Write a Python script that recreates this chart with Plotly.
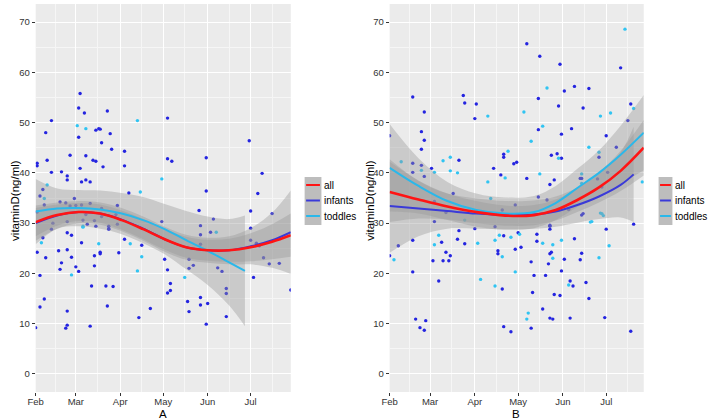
import plotly.graph_objects as go

Y = "2015-"

# ---------------- Panel A : scatter points ----------------
a_inf_dates = ["02-02","02-02","02-12","02-08","02-09","02-12","03-04","03-03","03-07","03-03","03-15","03-17","03-18","03-23","03-25","03-19","03-26","02-25","03-08","03-13","03-15","03-04","03-20","04-04","04-04","02-19","02-23","02-23","03-05","03-08","03-11","04-07","05-04","05-04","05-07","05-31","05-31","06-30","07-09","07-06","02-04","02-06","02-18","02-28","02-01","02-02","02-04","02-04","02-07","02-08","02-06","02-12","02-17","02-19","02-18","02-23","02-23","02-26","02-26","02-23","02-23","02-22","03-01","03-03","03-05","03-09","03-11","03-12","03-14","03-14","03-18","03-18","03-22","03-23","03-27","03-24","03-30","03-31","04-04","04-14","04-16","04-22","04-30","05-02","05-04","05-04","05-06","05-06","05-19","05-18","05-19","05-22","05-19","05-26","05-27","05-27","05-27","05-27","05-27","05-31","06-01","06-05","06-03","06-08","06-11","06-14","06-14","06-14","07-01","07-01","07-01","07-03","07-16","07-10","07-14","07-21","07-29","07-07","02-07","02-02","02-22","02-25","03-01","03-05","03-08","03-11","03-14","03-06","02-23","02-13","03-15","03-24","03-24","03-30","03-29","03-19","03-19","07-05"]
a_inf_vals = [41.9,41.4,50.4,48.0,42.5,40.1,55.8,52.9,51.9,47.1,48.5,48.8,48.7,52.3,47.8,46.0,44.7,43.5,43.4,42.5,42.3,40.9,41.2,41.4,44.3,40.2,39.4,38.6,38.2,38.6,38.2,36.0,50.9,42.8,42.3,43.0,36.4,46.4,39.9,35.9,35.4,36.7,34.2,34.9,9.2,24.2,19.6,13.3,14.9,23.1,27.1,28.8,24.5,22.1,20.8,28.1,24.7,27.6,23.2,12.5,9.7,9.1,21.3,20.4,26.1,29.8,9.5,17.5,21.5,23.5,23.9,24.2,17.5,13.5,17.4,28.9,29.8,24.1,26.8,11.2,25.6,13.0,30.3,22.8,20.7,16.1,16.6,18.0,21.0,14.4,12.4,21.6,22.8,32.5,29.5,27.7,25.8,15.2,13.7,9.9,14.0,30.8,28.2,21.1,20.4,17.0,16.0,11.4,32.4,29.0,26.6,19.2,31.9,23.1,21.9,22.0,16.7,25.5,33.6,32.2,34.0,33.4,33.5,33.6,31.7,33.9,30.5,30.6,30.3,30.0,29.4,29.4,28.8,33.5,31.7,32.9,31.3,26.0]
a_tod_dates = ["03-02","03-08","04-15","04-13","04-30","02-09","02-07","02-05","02-26","03-06","03-17","04-08","04-13","04-16","05-16","06-07","03-06"]
a_tod_vals = [49.4,48.8,36.2,50.4,38.8,37.6,34.9,26.1,19.7,29.4,25.9,25.9,20.5,23.3,19.2,28.2,29.2]

# ---------------- Panel A : smooth fits ----------------
a_all_dates = ["02-01","02-16","03-03","03-18","04-02","04-17","05-02","05-17","06-01","06-16","07-01","07-16","07-29"]
a_all_fit = [30.2,31.6,32.2,31.9,30.6,28.8,26.8,25.2,24.6,24.6,25.2,26.3,27.6]
a_all_se = [2.8,2.1,1.8,1.8,1.9,2.0,2.1,2.1,2.1,2.3,2.8,3.5,4.3]
a_inf_fit = [30.0,31.5,32.2,31.9,30.7,28.9,26.8,25.2,24.6,24.6,25.4,26.6,28.2]
a_inf_se = [3.5,2.6,2.2,2.2,2.3,2.4,2.5,2.5,2.5,2.8,3.6,5.5,8.3]
a_tod_fdates = ["02-01","02-16","03-03","03-18","04-02","04-17","05-02","05-17","06-01","06-16","06-27"]
a_tod_fit = [32.3,32.9,33.0,32.7,31.9,30.6,28.8,26.6,24.5,22.2,20.5]
a_tod_se = [6.5,4.0,3.6,3.8,4.1,4.6,5.0,5.8,6.8,8.6,11.0]

# ---------------- Panel B : scatter points ----------------
b_inf_dates = ["02-01","02-17","02-23","02-25","02-25","02-23","02-17","02-23","02-17","02-25","03-02","03-21","03-24","03-25","04-02","04-01","04-14","04-19","04-21","04-21","04-28","04-30","05-07","05-07","05-15","05-15","05-16","05-24","05-26","05-23","05-28","05-29","05-30","05-31","05-31","06-02","06-07","06-09","06-15","06-19","06-13","06-26","07-01","07-08","07-11","07-16","07-18","07-02","02-01","02-07","02-17","02-17","02-19","02-22","02-25","02-26","03-04","03-03","03-07","03-09","03-10","03-12","03-14","03-15","03-20","03-25","04-01","04-17","04-17","04-20","04-21","04-21","04-26","04-29","05-03","05-10","05-10","05-11","05-12","05-14","05-14","05-18","05-20","05-22","05-23","05-24","05-23","05-23","05-23","05-25","05-26","05-30","05-31","06-02","06-06","06-06","06-08","06-09","06-13","06-14","06-14","06-17","06-19","07-01","06-30","07-18","07-20","03-04","03-17","03-12","03-21","04-15","04-20","04-29","05-01","05-01","05-15","05-21","05-23","06-05","06-15","06-14","06-25","06-28"]
b_inf_vals = [47.4,55.1,48.2,52.1,46.5,44.7,41.9,41.5,40.1,39.3,40.9,42.5,55.4,53.9,53.7,50.8,40.9,39.6,43.7,43.1,41.8,42.1,65.7,38.9,54.8,48.6,63.2,43.5,38.6,37.7,43.8,53.3,61.6,47.7,42.9,56.3,48.8,57.2,52.9,56.8,38.9,43.1,47.4,45.1,60.9,50.4,53.7,40.1,23.5,25.5,26.6,20.3,10.9,9.2,8.7,10.6,30.3,22.5,18.5,26.2,22.5,24.2,22.5,23.5,26.8,25.9,28.9,24.5,23.9,16.9,9.4,27.5,8.4,24.8,25.2,22.3,9.1,16.2,19.6,27.8,26.4,12.9,19.6,21.9,23.9,24.2,29.4,28.8,11.1,10.9,15.8,15.6,20.5,22.8,18.5,11.1,17.5,26.9,22.7,24.0,31.6,18.2,15.0,28.8,11.2,8.5,29.8,34.3,35.9,32.1,28.5,29.3,32.6,33.6,31.6,28.1,35.2,34.6,29.6,32.7,31.9,38.9,38.8,37.2]
b_tod_dates = ["02-09","02-23","03-04","03-10","03-15","03-15","03-20","04-10","04-10","04-24","04-22","05-05","05-10","05-18","05-16","05-21","05-29","06-19","06-14","06-26","06-27","07-04","07-14","07-20","07-26","02-04","03-04","03-07","04-03","04-05","04-15","04-15","04-18","04-20","04-26","04-29","05-02","05-07","05-08","05-18","05-25","05-25","05-31","06-05","06-20","06-26","06-27","06-29","07-03","03-25","04-12","06-21","06-28","06-14"]
b_tod_vals = [42.2,40.5,40.1,42.4,43.1,40.4,40.0,51.3,38.2,44.3,39.0,52.1,46.3,49.3,39.8,56.9,42.9,45.1,39.8,44.1,51.3,51.9,68.6,52.8,38.2,22.7,25.7,27.6,26.0,18.8,17.5,26.6,27.6,23.3,27.2,20.3,27.8,10.9,12.1,26.0,23.0,25.7,26.6,17.7,30.2,23.1,32.0,31.5,25.5,30.6,34.9,30.3,31.9,37.9]

# ---------------- Panel B : smooth fits ----------------
b_fdates = ["02-01","02-21","03-13","04-02","04-22","05-12","05-27","06-11","06-26","07-11","07-27"]
b_all_fit = [36.2,34.7,33.3,32.2,31.5,31.6,32.6,34.6,37.1,40.4,45.0]
b_all_se = [6.0,3.8,2.6,2.2,2.0,2.0,2.1,2.4,3.0,4.0,5.5]
b_tod_fit = [41.0,37.4,34.4,32.6,31.9,32.2,34.0,37.0,40.0,43.6,48.0]
b_tod_se = [8.7,5.5,3.8,3.3,3.2,3.2,3.4,3.8,4.5,5.8,7.5]
b_inf_fdates = ["02-01","02-21","03-13","04-02","04-22","05-12","05-27","06-11","06-26","07-11","07-20"]
b_inf_fit = [33.4,32.9,32.4,31.9,31.6,31.7,32.3,33.6,35.3,37.6,39.7]
b_inf_se = [9.3,5.5,3.5,3.0,2.8,2.8,3.0,3.5,4.5,6.5,9.5]

# ---------------- axes / labels ----------------
month_ticks = ["2015-02-01","2015-03-01","2015-04-01","2015-05-01","2015-06-01","2015-07-01"]
month_labels = ["Feb","Mar","Apr","May","Jun","Jul"]
month_minor = ["2015-02-15","2015-03-16","2015-04-16","2015-05-16","2015-06-16","2015-07-16"]
y_ticks = [0,10,20,30,40,50,60,70]
y_minor = [5,15,25,35,45,55,65]
groups = ["all","infants","toddles"]
panel_labels = ["A","B"]
y_title = "vitaminD(ng/ml)"

C_ALL = "#ff1414"
C_INF = "#3a3ad8"
C_TOD = "#2ab8ea"
P_INF = "#2424e0"
P_TOD = "#30c4f2"
BAND = "rgba(153,153,153,0.4)"
FONT = "Liberation Sans, Arial, sans-serif"

def d(lst):
    return [Y + s for s in lst]

fig = go.Figure()

def add_points(xa, ya, dates, vals, color):
    fig.add_trace(go.Scatter(x=d(dates), y=vals, mode="markers", xaxis=xa, yaxis=ya,
                             marker=dict(size=3.4, color=color), showlegend=False, hoverinfo="skip"))

def add_band(xa, ya, dates, fit, se):
    lo = [f - s for f, s in zip(fit, se)]
    hi = [f + s for f, s in zip(fit, se)]
    fig.add_trace(go.Scatter(x=d(dates), y=lo, mode="lines", xaxis=xa, yaxis=ya,
                             line=dict(width=0, shape="spline"), showlegend=False, hoverinfo="skip"))
    fig.add_trace(go.Scatter(x=d(dates), y=hi, mode="lines", xaxis=xa, yaxis=ya, fill="tonexty",
                             fillcolor=BAND, line=dict(width=0, shape="spline"),
                             showlegend=False, hoverinfo="skip"))

def add_line(xa, ya, dates, fit, color, w):
    fig.add_trace(go.Scatter(x=d(dates), y=fit, mode="lines", xaxis=xa, yaxis=ya,
                             line=dict(color=color, width=w, shape="spline"),
                             showlegend=False, hoverinfo="skip"))

# Panel A
add_points("x", "y", a_inf_dates, a_inf_vals, P_INF)
add_points("x", "y", a_tod_dates, a_tod_vals, P_TOD)
add_band("x", "y", a_all_dates, a_all_fit, a_all_se)
add_band("x", "y", a_all_dates, a_inf_fit, a_inf_se)
add_band("x", "y", a_tod_fdates, a_tod_fit, a_tod_se)
add_line("x", "y", a_all_dates, a_inf_fit, C_INF, 2)
add_line("x", "y", a_tod_fdates, a_tod_fit, C_TOD, 2)
add_line("x", "y", a_all_dates, a_all_fit, C_ALL, 2.6)

# Panel B
add_points("x2", "y2", b_inf_dates, b_inf_vals, P_INF)
add_points("x2", "y2", b_tod_dates, b_tod_vals, P_TOD)
add_band("x2", "y2", b_fdates, b_all_fit, b_all_se)
add_band("x2", "y2", b_inf_fdates, b_inf_fit, b_inf_se)
add_band("x2", "y2", b_fdates, b_tod_fit, b_tod_se)
add_line("x2", "y2", b_inf_fdates, b_inf_fit, C_INF, 2)
add_line("x2", "y2", b_fdates, b_tod_fit, C_TOD, 2)
add_line("x2", "y2", b_fdates, b_all_fit, C_ALL, 2.6)

W, H = 709, 420
ML, MR, MT, MB = 0, 0, 4, 28
PH = H - MT - MB

def px(x):
    return x / W

def py(y):
    return (H - MB - y) / PH

def xaxis(dom, rng, anchor):
    return dict(domain=dom, anchor=anchor, type="date", range=rng, tickmode="array",
                tickvals=month_ticks, ticktext=month_labels, ticks="outside", ticklen=3,
                tickcolor="#333", tickfont=dict(size=9.5, color="#333", family=FONT),
                ticklabelstandoff=-2,
                showgrid=True, gridcolor="white", gridwidth=1.2, zeroline=False, showline=False,
                minor=dict(tickmode="array", tickvals=month_minor, showgrid=True,
                           gridcolor="#f6f6f6", gridwidth=0.6, ticks=""),
                fixedrange=True)

def yaxis(anchor):
    return dict(domain=[0, 1], anchor=anchor, range=[-3.6, 73.6], tickmode="array",
                tickvals=y_ticks, ticks="outside", ticklen=3, tickcolor="#333",
                tickfont=dict(size=9.5, color="#333", family=FONT), showgrid=True,
                gridcolor="white", gridwidth=1.2, zeroline=False, showline=False,
                minor=dict(tickmode="array", tickvals=y_minor, showgrid=True,
                           gridcolor="#f6f6f6", gridwidth=0.6, ticks=""),
                fixedrange=True)

fig.update_layout(
    width=W, height=H,
    margin=dict(l=ML, r=MR, t=MT, b=MB),
    paper_bgcolor="white", plot_bgcolor="#ebebeb",
    font=dict(family=FONT, color="black"),
    xaxis=xaxis([px(28), px(286)], ["2015-02-01", "2015-07-29"], "y"),
    yaxis=yaxis("x"),
    xaxis2=xaxis([px(386), px(643)], ["2015-02-01", "2015-07-27"], "y2"),
    yaxis2=yaxis("x2"),
    showlegend=False,
)

annotations = []
shapes = []
# axis titles and panel labels
for xt, xl, lab in [(7, 157, panel_labels[0]), (366, 514, panel_labels[1])]:
    annotations.append(dict(x=px(xt), y=py(200), xref="paper", yref="paper", text=y_title,
                            textangle=-90, showarrow=False, xanchor="center", yanchor="middle",
                            font=dict(size=11.5, color="black", family=FONT)))
    annotations.append(dict(x=px(xl), y=py(414), xref="paper", yref="paper", text=lab,
                            showarrow=False, xanchor="center", yanchor="middle",
                            font=dict(size=11.5, color="black", family=FONT)))

# legends (drawn keys)
key_colors = [C_ALL, C_INF, C_TOD]
for bx0, bx1, tx in [(300, 317, 318), (658, 672, 673)]:
    shapes.append(dict(type="rect", xref="paper", yref="paper", x0=px(bx0), x1=px(bx1),
                       y0=py(225), y1=py(177), fillcolor="#bdbdbd", line=dict(width=0), layer="above"))
    for i, (g, c) in enumerate(zip(groups, key_colors)):
        yy = 185 + i * 15.5
        shapes.append(dict(type="line", xref="paper", yref="paper", x0=px(bx0 + 1.5), x1=px(bx1 - 1.5),
                           y0=py(yy), y1=py(yy), line=dict(color=c, width=2), layer="above"))
        annotations.append(dict(x=px(tx), y=py(yy), xref="paper", yref="paper", text=g,
                                showarrow=False, xanchor="left", yanchor="middle",
                                font=dict(size=10, color="black", family=FONT)))

fig.update_layout(annotations=annotations, shapes=shapes)

fig.write_html("out.html")
